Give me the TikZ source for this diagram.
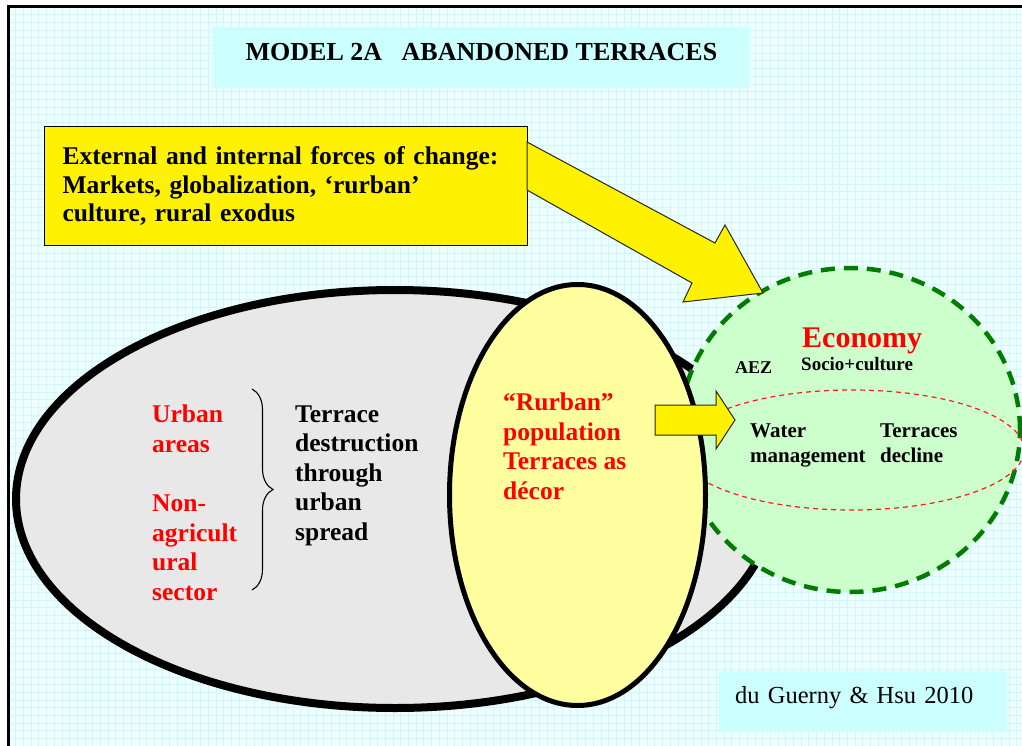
\documentclass[tikz,border=0pt]{standalone}
\usepackage{fontspec}
\setmainfont{Liberation Serif}
\usetikzlibrary{positioning, shapes.geometric, decorations.pathreplacing}
\definecolor{gridbg}{RGB}{238,255,255}
\definecolor{gridline}{RGB}{208,247,255}
\definecolor{titlecyan}{RGB}{204,255,255}
\definecolor{palegreen}{RGB}{204,255,204}
\definecolor{dashgreen}{RGB}{0,125,0}
\definecolor{paleyellow}{RGB}{255,255,160}
\definecolor{ovalgrey}{RGB}{232,232,232}

\begin{document}
\begin{tikzpicture}[x=1pt, y=-1pt,
    oval/.style={draw, ellipse, inner sep=0pt},
    plaintext/.style={font=\bfseries\fontsize{25.5}{29.5}\selectfont, align=left, anchor=base west, inner sep=0pt},
    redtext/.style={plaintext, text=red},
    smalltext/.style={font=\bfseries\fontsize{21}{25}\selectfont, align=left, anchor=base west, inner sep=0pt},
    blockarrow/.style={fill=yellow, draw=black!85, line width=1pt, line join=miter},
    ]
    \useasboundingbox (0,0) rectangle (1022,746);
    \clip (0,0) rectangle (1022,746);

    % background grid and frame
    \fill[gridbg] (8,7) rectangle (1030,760);
    \foreach \gx in {8,15.7,...,1030} \draw[gridline, line width=0.8pt] (\gx,7) -- (\gx,760);
    \foreach \gy in {7,14.7,...,760} \draw[gridline, line width=0.8pt] (8,\gy) -- (1030,\gy);
    \draw[line width=3pt] (8,7) rectangle (1030,760);

    % title
    \node[fill=titlecyan, minimum width=537pt, minimum height=61pt, text height=17pt, text depth=10pt,
          font=\bfseries\fontsize{26}{30}\selectfont] (title) at (481.5,57.5) {MODEL 2A\hspace{0.75em}ABANDONED TERRACES};

    % forces of change
    \node[draw, fill=yellow, line width=1.2pt, minimum width=483pt, minimum height=119pt, anchor=north west,
          inner xsep=18pt, inner ysep=0pt, text width=447pt, align=left,
          font=\bfseries\fontsize{25.5}{28.5}\selectfont] (forces) at (44,126)
          {External and internal forces of change:\\Markets, globalization, ‘rurban’\\culture, rural exodus};

    % the three ovals
    \node[oval, fill=ovalgrey, line width=8pt, minimum width=758pt, minimum height=418pt] (city) at (395,499) {};
    \node[oval, fill=palegreen, draw=dashgreen, line width=4.5pt, dash pattern=on 14pt off 9pt,
          minimum width=340pt, minimum height=324pt] (economy) at (850,430) {};
    \node[oval, draw=red!90, line width=1.2pt, dash pattern=on 5pt off 4pt,
          minimum width=344pt, minimum height=120pt] (water) at (852,450) {};
    \node[oval, fill=paleyellow, line width=5pt, minimum width=256pt, minimum height=421pt] (rurban) at (577.5,495) {};

    % block arrows
    \filldraw[blockarrow] (527,142) -- (715,243) -- (725,225) -- (763,293) -- (683,302) -- (692,283) -- (527,190) -- cycle;
    \filldraw[blockarrow] (655,405) -- (716,405) -- (716,391) -- (735,420) -- (716,449) -- (716,435) -- (655,435) -- cycle;

    % city texts (anchored on their last line)
    \node[redtext] (urban) at (152,452) {Urban\\areas};
    \node[redtext] (nonagri) at (152,600) {Non-\\agricult\\ural\\sector};
    \draw[decorate, decoration={brace, amplitude=21pt}, line width=1.1pt] (252,389) -- (252,590);
    \node[plaintext] (spread) at (295,540) {Terrace\\destruction\\through\\urban\\spread};

    % rurban texts
    \node[redtext] (decor) at (503,499) {“Rurban”\\population\\Terraces as\\décor};

    % economy texts
    \node[font=\bfseries\fontsize{30}{34}\selectfont, text=red, anchor=base west, inner sep=0pt] (econ) at (802,347) {Economy};
    \node[smalltext, font=\bfseries\fontsize{18}{22}\selectfont] (aez) at (735,373) {AEZ};
    \node[smalltext, font=\bfseries\fontsize{19}{22}\selectfont] (socio) at (801,370) {Socio+culture};
    \node[smalltext] (watermg) at (750,462) {Water\\management};
    \node[smalltext] (decline) at (880,462) {Terraces\\decline};

    % citation
    \node[fill=titlecyan, minimum width=288pt, minimum height=61pt, anchor=north west,
          inner xsep=16pt, text width=256pt, align=left, text height=17pt, text depth=14pt,
          font=\fontsize{24.5}{28}\selectfont] (cite) at (719,671) {du Guerny \& Hsu 2010};
\end{tikzpicture}
\end{document}
